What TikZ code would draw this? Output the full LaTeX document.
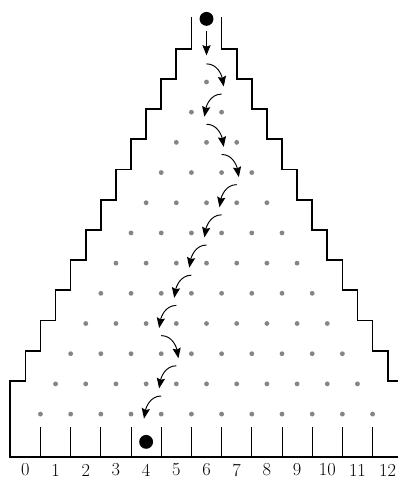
\documentclass[tikz,border=0pt]{standalone}
\usepackage{fontspec}
\usetikzlibrary{arrows.meta}

\tikzset{
  wall/.style={line width=1.6pt},
  peg/.style={fill=black!48},
  bin/.style={line width=0.8pt},
  hop/.style={line width=0.9pt,-{Stealth[length=3.4mm,width=2.7mm,inset=0.5mm]}}
}

\begin{document}
\begin{tikzpicture}
\clip (-6.84,-13.15) rectangle (6.34,2.715);

\draw [wall] (-0.5,2.15)
  \foreach \k in {0,...,11} { -- ({-(\k+1)/2},{1.1-\k}) -- ({-(\k+2)/2},{1.1-\k}) }
  -- (-6.5,-12.42) -- (6.5,-12.42)
  \foreach \k in {11,...,0} { -- ({(\k+2)/2},{1.1-\k}) -- ({(\k+1)/2},{1.1-\k}) }
  -- (0.5,2.15);

\foreach \r in {1,...,12}
  \foreach \j in {1,...,\r}
    \fill [peg] ({\j-(\r+1)/2},{1-\r}) circle [radius=.08];

\foreach \x in {-5.5,-4.5,...,5.5}
  \draw [bin] (\x,-12.42) -- (\x,-11.42);

\foreach \n in {0,...,12}
  \node [font=\fontsize{17.3}{20}\selectfont, inner sep=0pt] (lab\n) at (\n-6,-12.85) {\n};

\fill (0,2.09) circle [radius=.23];
\draw [hop] (0,1.69) -- (0,0.88);
\foreach \r/\x/\d [evaluate=\d as \a using 90-90*\d,
                   evaluate=\d as \b using 90+10*\d]
  in {1/0/1, 2/0.5/-1, 3/0/1, 4/0.5/1, 5/1/-1, 6/0.5/-1,
      7/0/-1, 8/-0.5/-1, 9/-1/-1, 10/-1.5/1, 11/-1/-1, 12/-1.5/-1}
  \draw [hop] (\x,1.6-\r) to [out=\a,in=\b] ({\x+0.57*\d},0.85-\r);
\fill (-2,-11.92) circle [radius=.23];
\end{tikzpicture}
\end{document}
